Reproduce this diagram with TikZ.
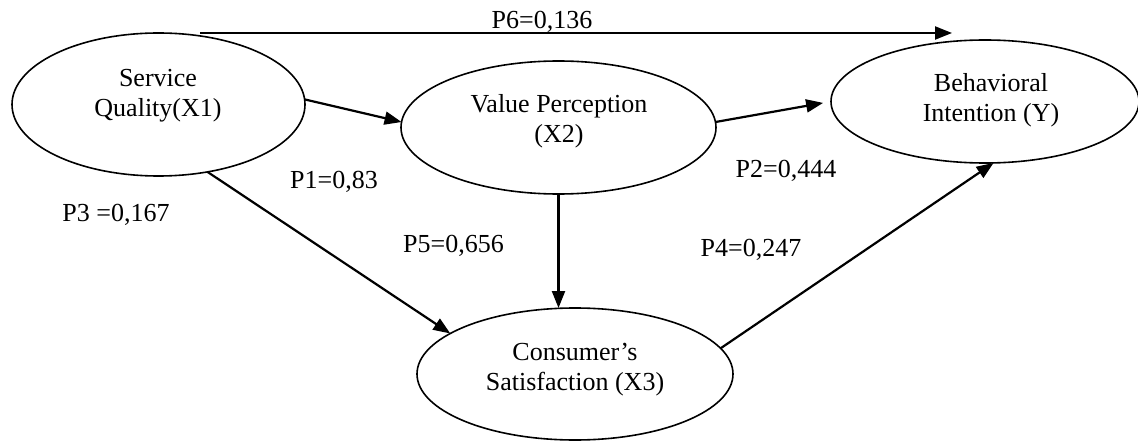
\documentclass[tikz,border=0pt]{standalone}
\usepackage{fontspec}
\setmainfont{Liberation Serif}
\usetikzlibrary{arrows.meta,shapes.geometric}
\begin{document}
\begin{tikzpicture}[x=1pt,y=-1pt,
  oval/.style={ellipse,draw,line width=1.6pt,inner sep=0pt,outer sep=0pt},
  txt/.style={align=center,inner sep=0pt,font=\fontsize{26}{30}\selectfont},
  lbl/.style={anchor=base,inner sep=0pt,font=\fontsize{26}{30}\selectfont},
  arr/.style={line width=2.2pt,-{Triangle[length=17pt,width=13pt]}}]
\useasboundingbox (0,0) rectangle (1138,441);
% ellipses
\node[oval,minimum width=293pt,minimum height=143pt] (x1) at (158.5,104.5) {};
\node[oval,minimum width=315pt,minimum height=133pt] (x2) at (558.5,127.5) {};
\node[oval,minimum width=308pt,minimum height=123pt] (y)  at (985,101.5) {};
\node[oval,minimum width=316pt,minimum height=132pt] (x3) at (575,374) {};
% texts
\node[txt] (x1t) at (158,95.5) {Service\\Quality(X1)};
\node[txt] (x2t) at (559,121.5) {Value Perception\\(X2)};
\node[txt] (yt)  at (991,100) {Behavioral\\Intention (Y)};
\node[txt] (x3t) at (575,369.5) {Consumer’s\\Satisfaction (X3)};
% connectors
\draw[arr] ([xshift=41.5pt]x1.north) -- ([xshift=-33pt,yshift=7pt]y.north);
\draw[arr] (x1.2) -- (x2.178);
\draw[arr,shorten >=8pt] (x2.2) -- (y.west);
\draw[arr] (x1.-54.6) -- (x3.162.3);
\draw[arr] (x2.south) -- (x2.south |- x3.north);
\draw[arr] (x3.10.2) -- (y.-82.8);
% labels
\node[lbl] (p6) at (542,29) {P6=0,136};
\node[lbl] (p1) at (334,189) {P1=0,83};
\node[lbl] (p3) at (116,221) {P3 =0,167};
\node[lbl] (p5) at (453.5,252) {P5=0,656};
\node[lbl] (p4) at (751,256) {P4=0,247};
\node[lbl] (p2) at (786,177) {P2=0,444};
\end{tikzpicture}
\end{document}
